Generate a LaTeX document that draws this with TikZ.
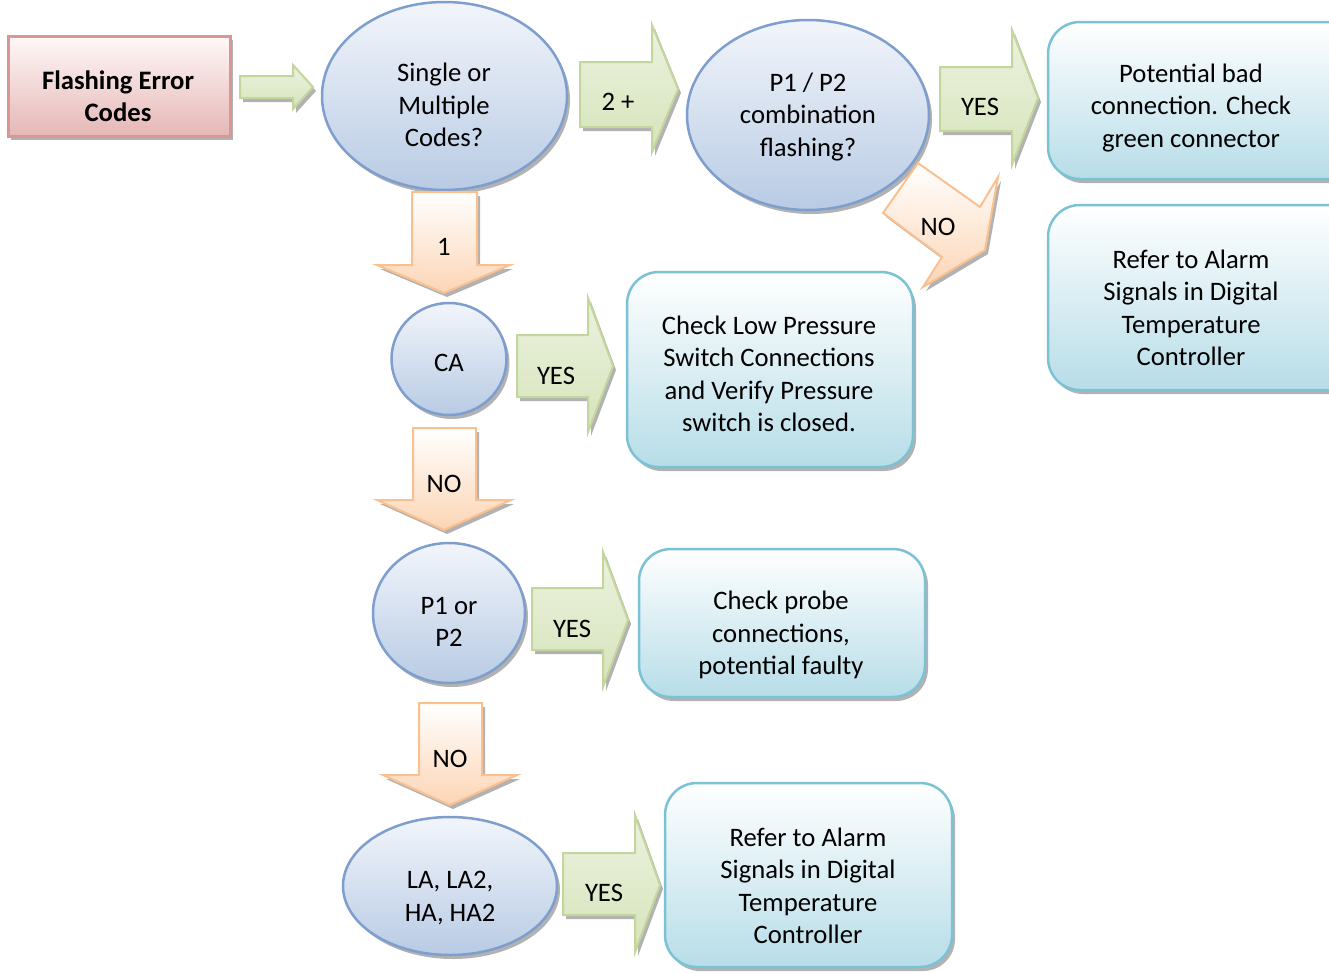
\documentclass[tikz,border=0pt]{standalone}
\usepackage{fontspec}
\setmainfont{Carlito}
\usetikzlibrary{shapes.geometric,shadows}
\definecolor{pinkB}{RGB}{217,150,148}
\definecolor{pinkT}{RGB}{255,248,248}
\definecolor{pinkF}{RGB}{229,183,182}
\definecolor{blueB}{RGB}{126,158,206}
\definecolor{blueT}{RGB}{242,245,251}
\definecolor{blueF}{RGB}{184,203,228}
\definecolor{cyanB}{RGB}{124,194,213}
\definecolor{cyanF}{RGB}{183,221,232}
\definecolor{greenB}{RGB}{195,214,155}
\definecolor{greenT}{RGB}{236,242,224}
\definecolor{greenF}{RGB}{214,228,186}
\definecolor{orangeB}{RGB}{250,192,144}
\definecolor{orangeF}{RGB}{252,213,181}
\begin{document}
\begin{tikzpicture}[x=1pt,y=-1pt,
 txt/.style={font=\fontsize{26.67}{32.5}\selectfont, align=center, inner sep=0pt},
 shad/.style={drop shadow={shadow xshift=3pt, shadow yshift=-4pt, fill=black, opacity=0.3}},
 pinkbox/.style={shad, rectangle, draw=pinkB, line width=3pt, top color=pinkT, bottom color=pinkF, inner sep=0pt},
 bubble/.style={shad, ellipse, draw=blueB, line width=2.5pt, top color=blueT, bottom color=blueF, inner sep=0pt},
 cbox/.style={shad, rectangle, draw=cyanB, line width=2.5pt, top color=white, bottom color=cyanF, rounded corners=32pt, inner sep=0pt},
 garrow/.style={shad, draw=greenB, line width=2pt, top color=greenT, bottom color=greenF, line join=miter},
 oarrow/.style={shad, draw=orangeB, line width=2pt, top color=white, bottom color=orangeF, line join=miter},
]
\clip (0,0) rectangle (1329,972);
\fill[white] (0,0) rectangle (1329,972);

% main shapes
\node[pinkbox, minimum width=222pt, minimum height=100pt] (start) at (119,86) {};
\node[bubble, minimum width=245pt, minimum height=188pt] (q1) at (444.5,96) {};
\node[bubble, minimum width=242pt, minimum height=190pt] (q2) at (808,115) {};
\node[cbox, minimum width=322pt, minimum height=157pt] (r1) at (1209,100.5) {};
\node[cbox, minimum width=322pt, minimum height=185pt] (r2) at (1209,297.5) {};
\node[bubble, minimum width=115pt, minimum height=112pt] (ca) at (449,359) {};
\node[cbox, minimum width=286pt, minimum height=195pt] (lp) at (770,369.5) {};
\node[bubble, minimum width=152pt, minimum height=140pt] (p12) at (449,613) {};
\node[cbox, minimum width=286pt, minimum height=148pt] (pr) at (782,623) {};
\node[bubble, minimum width=214pt, minimum height=138pt] (la) at (450,886) {};
\node[cbox, minimum width=287pt, minimum height=184pt] (al) at (808.5,875) {};

% block arrows
\draw[garrow] (240,76) -- (293,76) -- (293,65) -- (313,87) -- (293,109) -- (293,98) -- (240,98) -- cycle;
\draw[garrow] (580,62) -- (652,62) -- (652,25) -- (678,89) -- (652,152) -- (652,127) -- (580,127) -- cycle;
\draw[garrow] (940,67) -- (1012,67) -- (1012,30) -- (1038,98) -- (1012,165) -- (1012,131) -- (940,131) -- cycle;
\draw[oarrow] (918,163) -- (980,207) -- (998,177) -- (985,250) -- (923,287) -- (942,257) -- (883,213) -- cycle;
\draw[oarrow] (412,192) -- (477,192) -- (477,265) -- (510,265) -- (444,293) -- (377,265) -- (412,265) -- cycle;
\draw[garrow] (517,335) -- (588,335) -- (588,298) -- (613,366) -- (588,432) -- (588,397) -- (517,397) -- cycle;
\draw[oarrow] (413,428) -- (476,428) -- (476,500) -- (511,500) -- (444,530) -- (377,500) -- (413,500) -- cycle;
\draw[garrow] (532,588) -- (603,588) -- (603,552) -- (628,620) -- (603,687) -- (603,650) -- (532,650) -- cycle;
\draw[oarrow] (419,703) -- (482,703) -- (482,775) -- (517,775) -- (450,805) -- (383,775) -- (419,775) -- cycle;
\draw[garrow] (563,853) -- (635,853) -- (635,815) -- (660,885) -- (635,952) -- (635,915) -- (563,915) -- cycle;

% texts
\node[txt] (t-start) at (118,96) {\bfseries Flashing Error\\\bfseries Codes};
\node[txt] (t-q1) at (444,105) {Single or\\Multiple\\Codes?};
\node[txt] (t-two) at (618,102) {2 +};
\node[txt] (t-q2) at (808,117) {P1 / P2\\combination\\flashing?};
\node[txt] (t-yes1) at (980,107) {YES};
\node[txt] (t-r1) at (1191,108) {Potential bad\\connection. Check\\green connector};
\node[txt] (t-no1) at (938,227) {NO};
\node[txt] (t-r2) at (1191,308) {Refer to Alarm\\Signals in Digital\\Temperature\\Controller};
\node[txt] (t-one) at (444,247) {1};
\node[txt] (t-ca) at (449,363) {CA};
\node[txt] (t-yes2) at (556,376) {YES};
\node[txt] (t-lp) at (769,374) {Check Low Pressure\\Switch Connections\\and Verify Pressure\\switch is closed.};
\node[txt] (t-no2) at (444,484) {NO};
\node[txt] (t-p12) at (449,622) {P1 or\\P2};
\node[txt] (t-yes3) at (572,629) {YES};
\node[txt] (t-pr) at (781,635) {Check probe\\connections,\\potential faulty};
\node[txt] (t-no3) at (450,759) {NO};
\node[txt] (t-la) at (450,898) {LA, LA2,\\HA, HA2};
\node[txt] (t-yes4) at (604,893) {YES};
\node[txt] (t-al) at (808,886) {Refer to Alarm\\Signals in Digital\\Temperature\\Controller};
\end{tikzpicture}
\end{document}
